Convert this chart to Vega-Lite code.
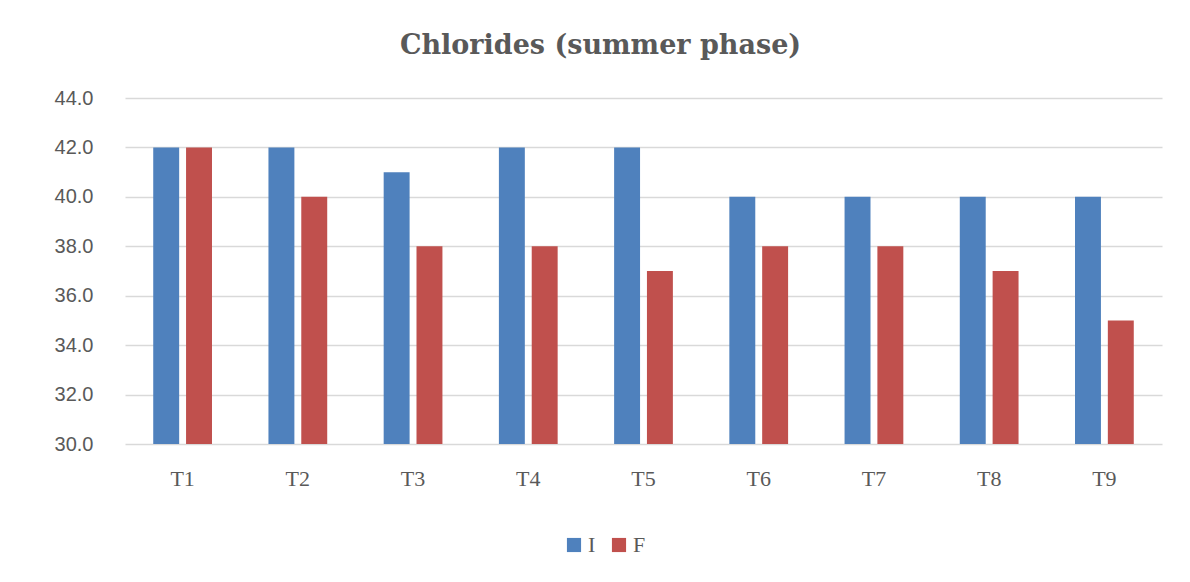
{
  "$schema": "https://vega.github.io/schema/vega-lite/v6.json",
  "width": 1037,
  "height": 346,
  "autosize": {"type": "none"},
  "padding": {"left": 125, "top": 98, "right": 28, "bottom": 138},
  "background": "white",
  "title": {
    "text": "Chlorides (summer phase)",
    "font": "DejaVu Serif",
    "fontSize": 27,
    "fontWeight": "bold",
    "color": "#595959",
    "anchor": "middle",
    "dx": -43,
    "offset": 28
  },
  "data": {
    "values": [
      {"t": "T1", "s": "I", "v": 42}, {"t": "T1", "s": "F", "v": 42},
      {"t": "T2", "s": "I", "v": 42}, {"t": "T2", "s": "F", "v": 40},
      {"t": "T3", "s": "I", "v": 41}, {"t": "T3", "s": "F", "v": 38},
      {"t": "T4", "s": "I", "v": 42}, {"t": "T4", "s": "F", "v": 38},
      {"t": "T5", "s": "I", "v": 42}, {"t": "T5", "s": "F", "v": 37},
      {"t": "T6", "s": "I", "v": 40}, {"t": "T6", "s": "F", "v": 38},
      {"t": "T7", "s": "I", "v": 40}, {"t": "T7", "s": "F", "v": 38},
      {"t": "T8", "s": "I", "v": 40}, {"t": "T8", "s": "F", "v": 37},
      {"t": "T9", "s": "I", "v": 40}, {"t": "T9", "s": "F", "v": 35}
    ]
  },
  "mark": {"type": "bar", "clip": true},
  "encoding": {
    "x": {
      "field": "t", "type": "nominal", "sort": null,
      "scale": {"paddingInner": 0.49, "paddingOuter": 0.245},
      "axis": {
        "title": null, "labelAngle": 0, "ticks": false, "domain": false,
        "labelFont": "Liberation Serif", "labelFontSize": 22, "labelColor": "#595959",
        "labelPadding": 24
      }
    },
    "xOffset": {
      "field": "s", "type": "nominal", "sort": ["I", "F"],
      "scale": {"paddingInner": 0.21, "paddingOuter": 0}
    },
    "y": {
      "field": "v", "type": "quantitative",
      "scale": {"domain": [30, 44], "nice": false, "zero": false},
      "axis": {
        "title": null, "values": [30, 32, 34, 36, 38, 40, 42, 44],
        "format": ".1f", "ticks": false, "domain": false,
        "labelFont": "Liberation Sans", "labelFontSize": 20, "labelColor": "#595959",
        "labelPadding": 32, "gridColor": "#d9d9d9", "gridWidth": 1.5
      }
    },
    "color": {
      "field": "s", "type": "nominal", "sort": ["I", "F"],
      "scale": {"domain": ["I", "F"], "range": ["#4F81BD", "#C0504D"]},
      "legend": {
        "title": null, "orient": "none", "direction": "horizontal",
        "legendX": 438, "legendY": 436,
        "symbolType": "square", "symbolSize": 200, "symbolStrokeWidth": 0,
        "labelFont": "Liberation Serif", "labelFontSize": 22, "labelColor": "#595959",
        "labelOffset": 3, "columnPadding": 12
      }
    }
  },
  "config": {"view": {"stroke": null}}
}
